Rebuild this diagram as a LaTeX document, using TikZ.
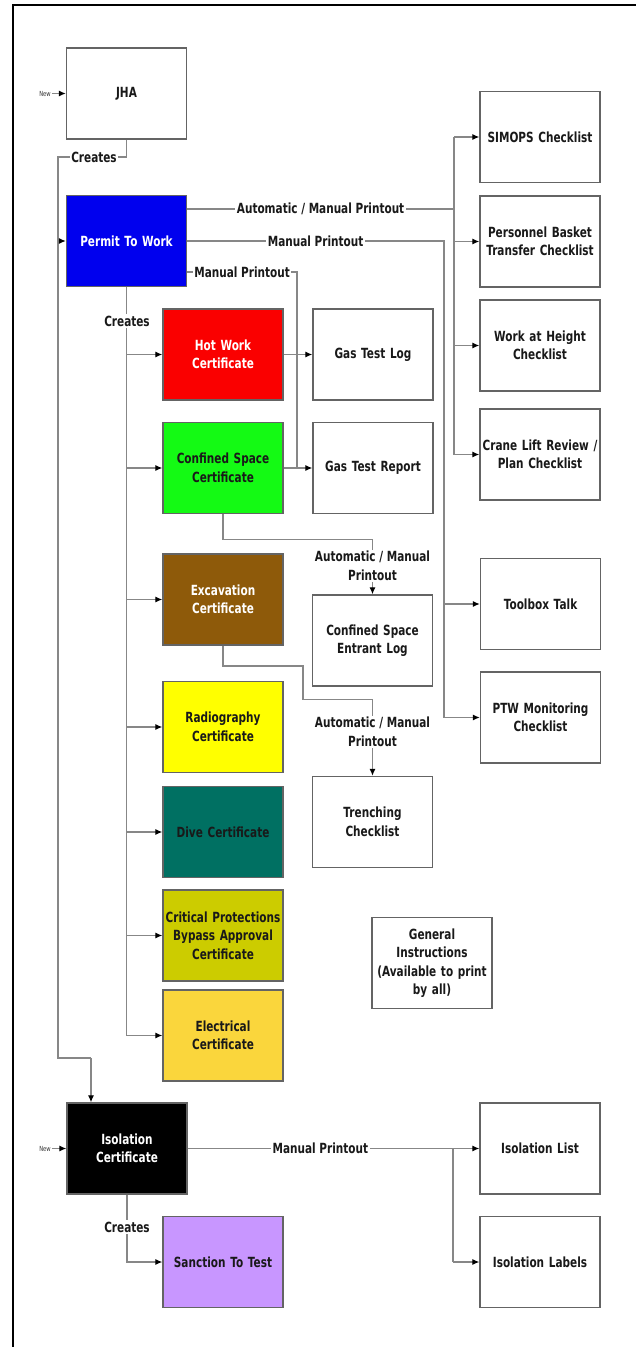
\documentclass[tikz,border=0pt]{standalone}
\usepackage{fontspec}
\setmainfont{DejaVu Sans}[FakeStretch=0.75]
\usetikzlibrary{arrows.meta}
\definecolor{cblue}{RGB}{0,0,238}
\definecolor{cred}{RGB}{250,0,0}
\definecolor{cgreen}{RGB}{20,250,20}
\definecolor{cbrown}{RGB}{142,90,10}
\definecolor{cyellow}{RGB}{255,255,0}
\definecolor{cteal}{RGB}{0,112,98}
\definecolor{colive}{RGB}{204,204,0}
\definecolor{cgold}{RGB}{250,214,60}
\definecolor{clav}{RGB}{200,150,255}
\definecolor{cline}{RGB}{135,135,135}
\definecolor{cborder}{RGB}{100,100,100}
\begin{document}
\begin{tikzpicture}[x=1pt,y=-1pt,
  box/.style={draw=cborder, line width=1.3pt, fill=white, minimum width=120pt, minimum height=91pt,
    text width=116pt, inner sep=2pt, align=center, text=black!90,
    font=\bfseries\fontsize{14}{18.5}\selectfont},
  lbl/.style={fill=white, inner sep=1.5pt, align=center, text=black!90,
    font=\bfseries\fontsize{14}{18.5}\selectfont},
  newlbl/.style={inner sep=1pt, font=\fontsize{7}{8}\selectfont, text=black!80},
  line/.style={draw=cline, line width=1.2pt},
  arr/.style={draw=cline, line width=1.2pt, -{Latex[length=7pt,width=6pt,color=black]}}]
\useasboundingbox (0,0) rectangle (636,1347);
\draw[line width=2.5pt] (13,1347) -- (13,5) -- (636,5);

% boxes
\node[box] (jha) at (126.5,93.5) {JHA};
\node[box, fill=cblue, text=white] (ptw) at (126.5,241) {Permit To Work};
\node[box, fill=cred, text=white] (hot) at (223,354.5) {Hot Work\\Certificate};
\node[box, fill=cgreen] (conf) at (223,468) {Confined Space\\Certificate};
\node[box, fill=cbrown, text=white] (exc) at (223,599.5) {Excavation\\Certificate};
\node[box, fill=cyellow] (rad) at (223,727) {Radiography\\Certificate};
\node[box, fill=cteal] (dive) at (223,832) {Dive Certificate};
\node[box, fill=colive] (crit) at (223,935.5) {Critical Protections\\Bypass Approval\\Certificate};
\node[box, fill=cgold] (elec) at (223,1035.5) {Electrical\\Certificate};
\node[box] (gtl) at (373,354.5) {Gas Test Log};
\node[box] (gtr) at (373,468) {Gas Test Report};
\node[box] (csel) at (372.5,640.5) {Confined Space\\Entrant Log};
\node[box] (trench) at (372.5,822) {Trenching\\Checklist};
\node[box] (genins) at (432,963) {General\\Instructions\\(Available to print\\by all)};
\node[box] (simops) at (540,137) {SIMOPS Checklist};
\node[box] (pbt) at (540,241.5) {Personnel Basket\\Transfer Checklist};
\node[box] (wah) at (540,345.5) {Work at Height\\Checklist};
\node[box] (crane) at (540,454.5) {Crane Lift Review /\\Plan Checklist};
\node[box] (tbt) at (540.5,604) {Toolbox Talk};
\node[box] (ptwm) at (540.5,717.5) {PTW Monitoring\\Checklist};
\node[box, fill=black, text=white] (iso) at (127,1148.5) {Isolation\\Certificate};
\node[box, fill=clav] (stt) at (223,1262) {Sanction To Test};
\node[box] (isol) at (540,1148.5) {Isolation List};
\node[box] (isolab) at (540,1262) {Isolation Labels};

% New inputs
\node[newlbl] (new1) at (45,93.5) {New};
\draw[arr] (new1.east) -- (jha.west);
\node[newlbl] (new2) at (45,1148.5) {New};
\draw[arr] (new2.east) -- (iso.west);

% JHA creates
\coordinate (cr1) at (58,157);
\coordinate (cr2) at (58,1058);
\coordinate (cr3) at (91,1058);
\draw[line] (jha.south) |- (cr1) -- (cr2) -- (cr3);
\draw[arr] (cr3) -- (cr3 |- iso.north);
\draw[arr] (cr1 |- ptw.west) -- (ptw.west);
\node[lbl] (crlbl1) at (94,157) {Creates};

% PTW to checklists bus
\coordinate (bus1) at (454,0);
\coordinate (p1) at ([yshift=32pt]ptw.east);
\draw[line] (p1) -- node[lbl] {Automatic / Manual Printout} (bus1 |- p1);
\draw[line] (bus1 |- simops.west) -- (bus1 |- crane.west);
\foreach \n in {simops,pbt,wah,crane} \draw[arr] (bus1 |- \n.west) -- (\n.west);

% PTW manual printout to toolbox/monitoring
\coordinate (bus2) at (444,0);
\draw[line] (ptw.east) -- node[lbl] {Manual Printout} (bus2 |- ptw.east) -- (bus2 |- ptwm.west);
\foreach \n in {tbt,ptwm} \draw[arr] (bus2 |- \n.west) -- (\n.west);

% PTW manual printout to gas tests
\coordinate (p3) at ([yshift=-31pt]ptw.east);
\coordinate (mp3) at (297,0);
\draw[line] (p3) -- node[lbl] {Manual Printout} (mp3 |- p3) -- (mp3 |- gtr.west);

% PTW creates certificates
\draw[line] (ptw.south) -- (ptw.south |- elec.west);
\foreach \n in {hot,conf,exc,rad,dive,crit,elec} \draw[arr] (ptw.south |- \n.west) -- (\n.west);
\node[lbl] (crlbl2) at (127,321) {Creates};

% certificate outputs
\draw[arr] (hot.east) -- (gtl.west);
\draw[arr] (conf.east) -- (gtr.west);
\coordinate (q1) at ([yshift=55pt]csel.north);
\draw[arr] (conf.south) |- (q1) -- node[lbl, pos=0.48] {Automatic / Manual\\Printout} (csel.north);
\coordinate (e1) at (303,666);
\coordinate (q2) at ([yshift=76pt]trench.north);
\draw[arr] (exc.south) |- (e1) |- (q2) -- node[lbl, pos=0.42] {Automatic / Manual\\Printout} (trench.north);

% isolation
\coordinate (bus4) at (453,0);
\draw[line] (iso.east) -- node[lbl] {Manual Printout} (bus4 |- iso.east) -- (bus4 |- isolab.west);
\foreach \n in {isol,isolab} \draw[arr] (bus4 |- \n.west) -- (\n.west);
\draw[arr] (iso.south) |- (stt.west);
\node[lbl] (crlbl3) at (127,1227) {Creates};
\end{tikzpicture}
\end{document}
